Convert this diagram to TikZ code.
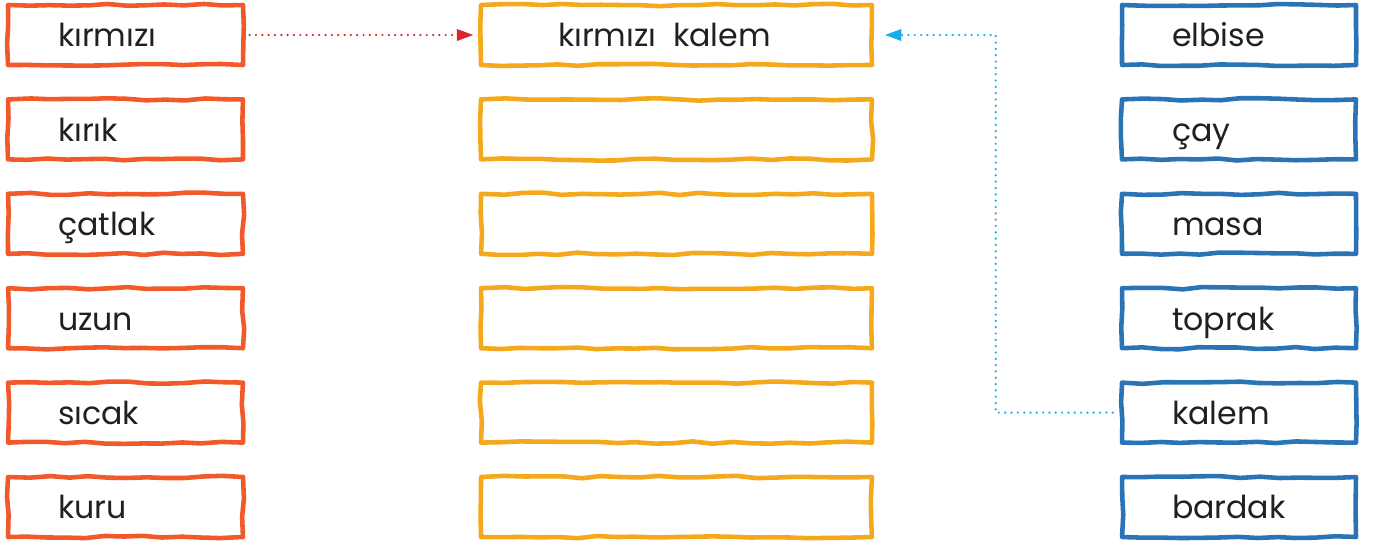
\documentclass[tikz,border=0pt]{standalone}
\usepackage{fontspec}
\setmainfont{Poppins}
\usetikzlibrary{arrows.meta,decorations.pathmorphing}
\definecolor{kirmizi}{HTML}{F1592A}
\definecolor{sari}{HTML}{F4A91D}
\definecolor{mavi}{HTML}{2A73B7}
\definecolor{yazi}{HTML}{231F20}
\definecolor{okkirmizi}{HTML}{D6262E}
\definecolor{okmavi}{HTML}{16ADEB}
\tikzset{
  kutu/.style={draw=#1, line width=2.6pt, fill=white, text=yazi,
    decorate, decoration={random steps, segment length=11pt, amplitude=0.7pt},
    line join=round, minimum height=1.2cm, inner ysep=0pt,
    text height=17.5pt, text depth=3.9pt,
    font=\fontsize{18}{21}\selectfont},
  solkutu/.style={kutu=kirmizi, inner xsep=1cm, text width=2.7cm, align=left},
  sagkutu/.style={kutu=mavi, inner xsep=1cm, text width=2.68cm, align=left},
  ortakutu/.style={kutu=sari, minimum width=7.82cm},
  ok/.style={line width=1.4pt, line cap=round, dash pattern=on 0pt off 3.6pt,
    -{Triangle[length=9.5pt, width=6.5pt]}}
}
\begin{document}
\begin{tikzpicture}[x=0.02cm, y=-0.02cm]
  \useasboundingbox (0,0) rectangle (1375,545);
  \pgfmathsetseed{11}
  % left column
  \foreach \ad [count=\i] in {kırmızı,kırık,çatlak,uzun,sıcak,kuru}
    \node[solkutu] (s\i) at (125.5, {35+94.4*(\i-1)}) {\ad};
  % middle column
  \node[ortakutu] (o1) at (676.5, 35) {\hspace*{-0.48cm}kırmızı\ \ kalem};
  \foreach \i in {2,...,6}
    \node[ortakutu] (o\i) at (676.5, {35+94.4*(\i-1)}) {};
  % right column
  \foreach \ad [count=\i] in {elbise,çay,masa,toprak,kalem,bardak}
    \node[sagkutu] (g\i) at (1239, {35+94.4*(\i-1)}) {\ad};
  % arrows
  \draw[okkirmizi, ok, shorten <=2.5pt, shorten >=3pt] (s1.east) -- (o1.west);
  \draw[okmavi, ok, shorten <=4pt, shorten >=6pt] (g5.west) -- ++(-124,0) |- (o1.east);
\end{tikzpicture}
\end{document}
